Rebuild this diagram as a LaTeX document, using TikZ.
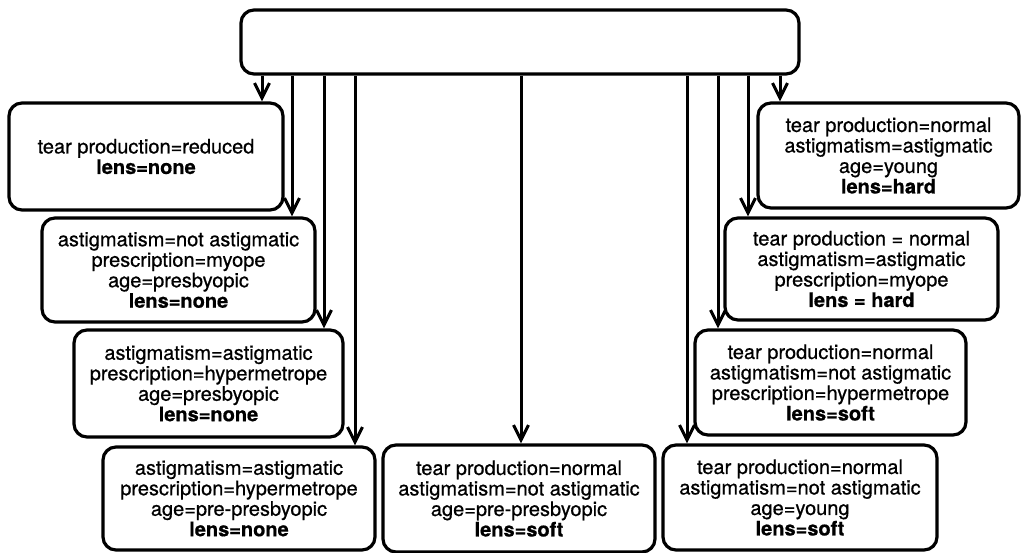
\documentclass[tikz,border=0pt]{standalone}
\usepackage{fontspec}
\setmainfont{TeX Gyre Heros}[UprightFeatures={FakeBold=0.7},BoldFeatures={FakeBold=0.7}]
\usetikzlibrary{arrows.meta}
\begin{document}
\begin{tikzpicture}[x=1pt,y=-1pt,
  rule/.style={draw, line width=3.2pt, rounded corners=13pt, inner sep=0pt,
    align=center, font=\fontsize{20}{20.5}\selectfont},
  link/.style={line width=3pt,
    -{Straight Barb[length=15pt,width=15pt,line width=3pt]}}]
\useasboundingbox (0,0) rectangle (1021,553);

% root of the tree
\node[rule, minimum width=558pt, minimum height=64pt] (root) at (520,42) {};

% left branch
\node[rule, minimum width=274pt, minimum height=107pt] (b1) at (146,156.5)
  {tear production=reduced\\ \textbf{lens=none}};
\node[rule, minimum width=273pt, minimum height=104pt] (b2) at (178.5,270)
  {astigmatism=not astigmatic\\ prescription=myope\\ age=presbyopic\\ \textbf{lens=none}};
\node[rule, minimum width=269pt, minimum height=107pt] (b3) at (208.5,383.5)
  {astigmatism=astigmatic\\ prescription=hypermetrope\\ age=presbyopic\\ \textbf{lens=none}};
\node[rule, minimum width=272pt, minimum height=103pt] (b4) at (239,498.5)
  {astigmatism=astigmatic\\ prescription=hypermetrope\\ age=pre-presbyopic\\ \textbf{lens=none}};

% middle
\node[rule, minimum width=272pt, minimum height=107pt] (mid) at (519,498.5)
  {tear production=normal\\ astigmatism=not astigmatic\\ age=pre-presbyopic\\ \textbf{lens=soft}};

% right branch
\node[rule, minimum width=274pt, minimum height=105pt] (r4) at (800,497.5)
  {tear production=normal\\ astigmatism=not astigmatic\\ age=young\\ \textbf{lens=soft}};
\node[rule, minimum width=271pt, minimum height=105pt] (r3) at (830.5,382.5)
  {tear production=normal\\ astigmatism=not astigmatic\\ prescription=hypermetrope\\ \textbf{lens=soft}};
\node[rule, minimum width=273pt, minimum height=102pt] (r2) at (861.5,269)
  {tear production = normal\\ astigmatism=astigmatic\\ prescription=myope\\ \textbf{lens = hard}};
\node[rule, minimum width=261pt, minimum height=105pt] (r1) at (888.5,155.5)
  {tear production=normal\\ astigmatism=astigmatic\\ age=young\\ \textbf{lens=hard}};

% columns of the connectors
\coordinate (x1) at (262,0);
\coordinate (x2) at (292,0);
\coordinate (x3) at (324,0);
\coordinate (x4) at (355,0);
\coordinate (x5) at (521,0);
\coordinate (x6) at (687,0);
\coordinate (x7) at (718,0);
\coordinate (x8) at (748,0);
\coordinate (x9) at (780,0);

\draw[link] (root.south -| x1) -- (b1.north -| x1);
\draw[link] (root.south -| x2) -- (b2.north -| x2);
\draw[link] (root.south -| x3) -- (b3.north -| x3);
\draw[link] (root.south -| x4) -- (b4.north -| x4);
\draw[link] (root.south -| x5) -- (mid.north -| x5);
\draw[link] (root.south -| x6) -- (r4.north -| x6);
\draw[link] (root.south -| x7) -- (r3.north -| x7);
\draw[link] (root.south -| x8) -- (r2.north -| x8);
\draw[link] (root.south -| x9) -- (r1.north -| x9);
\end{tikzpicture}
\end{document}
